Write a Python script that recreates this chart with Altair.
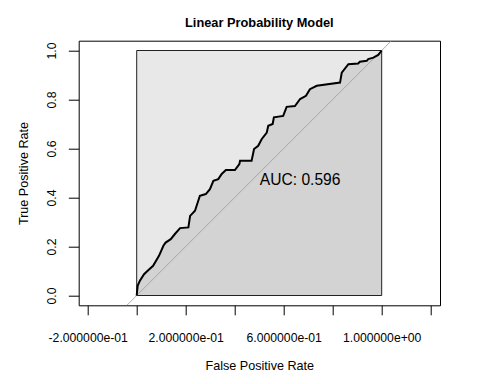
import altair as alt
import pandas as pd

# ROC curve points
fpr = [0, 0.004, 0.013, 0.030, 0.048, 0.067, 0.091, 0.109, 0.118, 0.139,
       0.156, 0.177, 0.211, 0.218, 0.238, 0.258, 0.282, 0.299, 0.313, 0.333,
       0.347, 0.364, 0.401, 0.419, 0.422, 0.469, 0.479, 0.496, 0.510, 0.531,
       0.537, 0.555, 0.560, 0.598, 0.612, 0.646, 0.667, 0.691, 0.707, 0.735,
       0.830, 0.837, 0.864, 0.904, 0.911, 0.939, 0.945, 0.966, 0.986, 1.0]
tpr = [0, 0.040, 0.060, 0.087, 0.104, 0.121, 0.162, 0.203, 0.216, 0.230,
       0.251, 0.275, 0.278, 0.325, 0.346, 0.407, 0.414, 0.434, 0.468, 0.475,
       0.496, 0.512, 0.512, 0.536, 0.550, 0.550, 0.598, 0.611, 0.638, 0.665,
       0.693, 0.700, 0.727, 0.733, 0.770, 0.773, 0.802, 0.815, 0.842, 0.856,
       0.869, 0.910, 0.944, 0.947, 0.954, 0.958, 0.965, 0.971, 0.982, 1.0]

x_ticks = [-0.2, 0.0, 0.2, 0.4, 0.6, 0.8, 1.0, 1.2]
x_tick_labels = ["-2.000000e-01", "", "2.000000e-01", "", "6.000000e-01", "", "1.000000e+00", ""]
y_ticks = [0.0, 0.2, 0.4, 0.6, 0.8, 1.0]
diag_x = [-0.04, 1.04]
auc_label = "AUC: 0.596"
auc_pos = (0.667, 0.471)

FONT = "Liberation Sans"

roc = pd.DataFrame({"x": fpr, "y": tpr})
diag = pd.DataFrame({"x": diag_x, "y": diag_x})
box = pd.DataFrame({"x": [0.0], "x2": [1.0], "y": [0.0], "y2": [1.0]})
auc = pd.DataFrame({"x": [auc_pos[0]], "y": [auc_pos[1]], "t": [auc_label]})

label_expr = " : ".join(
    f"abs(datum.value - ({v})) < 1e-6 ? '{l}'" for v, l in zip(x_ticks, x_tick_labels)
) + " : ''"

xscale = alt.Scale(domain=[-0.2367, 1.2380], nice=False, zero=False)
yscale = alt.Scale(domain=[-0.04, 1.04], nice=False, zero=False)

xaxis = alt.Axis(values=x_ticks, labelExpr=label_expr, title="False Positive Rate",
                 domain=False, grid=False, tickSize=9.5, tickColor="black", tickWidth=1,
                 labelFont=FONT, labelFontSize=12.2, labelColor="black",
                 labelBaseline="alphabetic", labelPadding=27, labelFlush=False,
                 labelOverlap=False, labelBound=False,
                 titleFont=FONT, titleFontSize=12.6, titleFontWeight="normal",
                 titleColor="black", titleBaseline="alphabetic", titleAlign="center",
                 titleX=180.6, titleY=64.6)
yaxis = alt.Axis(values=y_ticks, format=".1f", title="True Positive Rate",
                 domain=False, grid=False, tickSize=10.4, tickColor="black", tickWidth=1,
                 labelFont=FONT, labelFontSize=12.2, labelColor="black",
                 labelAngle=270, labelAlign="center", labelBaseline="alphabetic",
                 labelPadding=12.3, labelFlush=False, labelOverlap=False, labelBound=False,
                 titleFont=FONT, titleFontSize=12.6, titleFontWeight="normal",
                 titleColor="black", titleAngle=270, titleBaseline="alphabetic",
                 titleAlign="center", titleX=-51.4, titleY=132.3)

bg = alt.Chart(box).mark_rect(fill="#E8E8E8", strokeWidth=0).encode(
    x=alt.X("x:Q", scale=xscale, axis=xaxis),
    x2="x2:Q",
    y=alt.Y("y:Q", scale=yscale, axis=yaxis),
    y2="y2:Q",
)

area = alt.Chart(roc).mark_area(color="#D3D3D3", opacity=1).encode(
    x="x:Q", y="y:Q", y2=alt.datum(0)
)

outline = alt.Chart(box).mark_rect(fill=None, fillOpacity=0, stroke="#222222",
                                   strokeWidth=1).encode(
    x="x:Q", x2="x2:Q", y="y:Q", y2="y2:Q"
)

diag_line = alt.Chart(diag).mark_line(color="#9A9A9A", strokeWidth=0.8, clip=True).encode(
    x="x:Q", y="y:Q"
)

roc_line = alt.Chart(roc).mark_line(color="black", strokeWidth=2).encode(
    x="x:Q", y="y:Q"
)

auc_text = alt.Chart(auc).mark_text(font=FONT, fontSize=15.6, color="black",
                                    align="center", baseline="middle").encode(
    x="x:Q", y="y:Q", text="t:N"
)

chart = alt.layer(bg, area, outline, diag_line, roc_line, auc_text).properties(
    width=361.3,
    height=264.6,
    background="white",
    padding={"left": 70.7, "top": 32.7, "right": 32, "bottom": 70.7},
    autosize=alt.AutoSizeParams(type="none"),
    title=alt.TitleParams("Linear Probability Model", font=FONT, fontSize=12.8,
                          fontWeight="bold", color="black", anchor="middle",
                          frame="group", baseline="alphabetic", offset=15.7, dy=14.5),
).configure_view(stroke="black", strokeWidth=1)

chart.save("out.html", embed_options={"renderer": "svg", "actions": False})
